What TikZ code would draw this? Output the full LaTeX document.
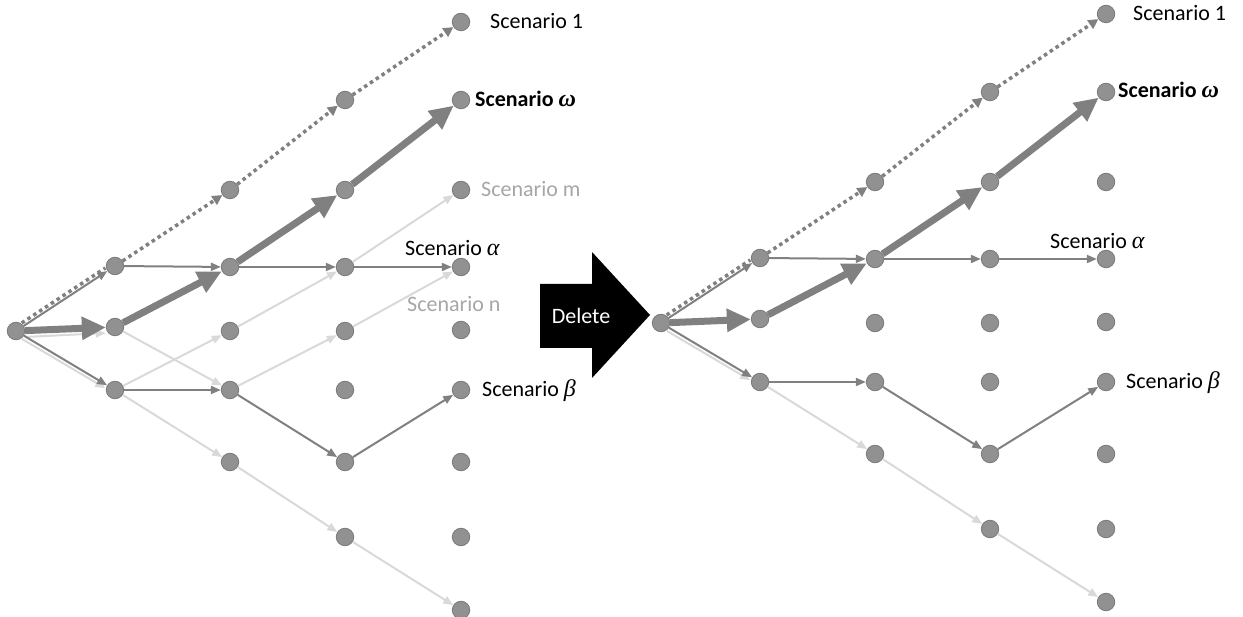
\documentclass[tikz,border=0pt]{standalone}
\usepackage{fontspec}
\setmainfont{Carlito}
\newfontfamily\grk{Liberation Serif}
\usetikzlibrary{arrows.meta}
\definecolor{dotfill}{HTML}{919191}
\definecolor{dotline}{HTML}{7A7A7A}
\definecolor{darkedge}{HTML}{808080}
\definecolor{lightedge}{HTML}{D9D9D9}
\definecolor{lighttext}{HTML}{A6A6A6}
\newcommand\gr[1]{{\grk\itshape\fontsize{24}{26}\selectfont #1}}
\tikzset{
  pt/.style={circle, fill=dotfill, draw=dotline, line width=0.8pt, minimum size=17.5pt, inner sep=0pt},
  darkarrow/.style={draw=darkedge, line width=2pt, -{Triangle[length=10pt,width=8pt]}},
  lightarrow/.style={draw=lightedge, line width=2pt, -{Triangle[length=10pt,width=8pt]}},
  thickarrow/.style={draw=darkedge, line width=7pt, -{Triangle[length=24pt,width=22pt]}},
  dotarrow/.style={draw=darkedge, line width=3.5pt, dash pattern=on 3.5pt off 3.5pt, -{Triangle[length=10pt,width=10pt]}},
  dotplain/.style={draw=darkedge, line width=3.5pt, dash pattern=on 3.5pt off 3.5pt},
  lbl/.style={anchor=base west, inner sep=0pt, font=\fontsize{22}{26}\selectfont},
}
\newcommand\placetree{%
  \node[pt] (r) at (16,331) {};
  \node[pt] (p1) at (115,266) {};
  \node[pt] (p2) at (115,327) {};
  \node[pt] (p3) at (115,390) {};
  \node[pt] (q1) at (230,190) {};
  \node[pt] (q2) at (230,267) {};
  \node[pt] (q3) at (230,331) {};
  \node[pt] (q4) at (230,390) {};
  \node[pt] (q5) at (230,462) {};
  \node[pt] (s1) at (345,100) {};
  \node[pt] (s2) at (345,190) {};
  \node[pt] (s3) at (345,267) {};
  \node[pt] (s4) at (345,331) {};
  \node[pt] (s5) at (345,390) {};
  \node[pt] (s6) at (345,462) {};
  \node[pt] (s7) at (345,537) {};
  \node[pt] (t1) at (461,22) {};
  \node[pt] (t2) at (461,100) {};
  \node[pt] (t3) at (461,190) {};
  \node[pt] (t4) at (461,267) {};
  \node[pt] (t5) at (461,330) {};
  \node[pt] (t6) at (461,390) {};
  \node[pt] (t7) at (461,462) {};
  \node[pt] (t8) at (461,537) {};
  \node[pt] (t9) at (461,610) {};
}
\newcommand\commonlight{%
  \draw[lightarrow] ([shift={(-2,3)}]r.-32) -- ([shift={(-2,3)}]p3.148);
  \draw[lightarrow] (p3) -- (q5);
  \draw[lightarrow] (q5) -- (s7);
  \draw[lightarrow] (s7) -- (t9);
}
\newcommand\commondark{%
  % alpha
  \draw[darkarrow] (r) -- (p1);
  \draw[darkarrow] (p1) -- (q2);
  \draw[darkarrow] (q2) -- (s3);
  \draw[darkarrow] (s3) -- (t4);
  % beta
  \draw[darkarrow] (r) -- (p3);
  \draw[darkarrow] (p3) -- (q4);
  \draw[darkarrow] (q4) -- (s6);
  \draw[darkarrow] (s6) -- (t6);
  % scenario 1 (dotted)
  \draw[dotplain] ([shift={(-2,-3)}]r.33) -- ([shift={(-2,-3)}]p1.213);
  \draw[dotarrow] (p1) -- (q1);
  \draw[dotarrow] (q1) -- (s1);
  \draw[dotarrow] (s1) -- (t1);
  % omega (thick)
  \draw[thickarrow] (r) -- (p2);
  \draw[thickarrow] (p2) -- (q2);
  \draw[thickarrow] (q2) -- (s2);
  \draw[thickarrow] (s2) -- (t2);
}
\begin{document}
\begin{tikzpicture}[x=1pt,y=-1pt]
\useasboundingbox (0,0) rectangle (1243,617);
% left tree
\begin{scope}[name prefix=L-]
  \placetree
  \draw[lightarrow] ([shift={(0,6)}]r.east) -- ([shift={(0,6)}]p2.west);
  \draw[lightarrow] (p2) -- (q4);
  \draw[lightarrow] (p3) -- (q3);
  \draw[lightarrow] (q3) -- (s3);
  \draw[lightarrow] (q4) -- (s4);
  \draw[lightarrow] (s3) -- (t3);
  \draw[lightarrow] (s4) -- (t4);
  \commonlight
  \commondark
\end{scope}
% right tree
\begin{scope}[shift={(645,-8)}, name prefix=R-]
  \placetree
  \commonlight
  \commondark
\end{scope}
% labels left
\node[lbl] (l1) at (490,29) {Scenario 1};
\node[lbl] (lw) at (475,107) {\textbf{Scenario \gr{ω}}};
\node[lbl, text=lighttext] (lm) at (481,197) {Scenario m};
\node[lbl] (la) at (405,256) {Scenario \gr{α}};
\node[lbl, text=lighttext] (ln) at (407,312) {Scenario n};
\node[lbl] (lb) at (482,397) {Scenario \gr{β}};
% labels right
\node[lbl] (r1) at (1133,21) {Scenario 1};
\node[lbl] (rw) at (1118,98) {\textbf{Scenario \gr{ω}}};
\node[lbl] (ra) at (1050,249) {Scenario \gr{α}};
\node[lbl] (rb) at (1126,389) {Scenario \gr{β}};
% delete arrow
\fill[black] (540,284) -- (592,284) -- (592,252) -- (650,315) -- (592,378) -- (592,348) -- (540,348) -- cycle;
\node[text=white, inner sep=0pt, font=\fontsize{22}{26}\selectfont] (del) at (581,316) {Delete};
\end{tikzpicture}
\end{document}
